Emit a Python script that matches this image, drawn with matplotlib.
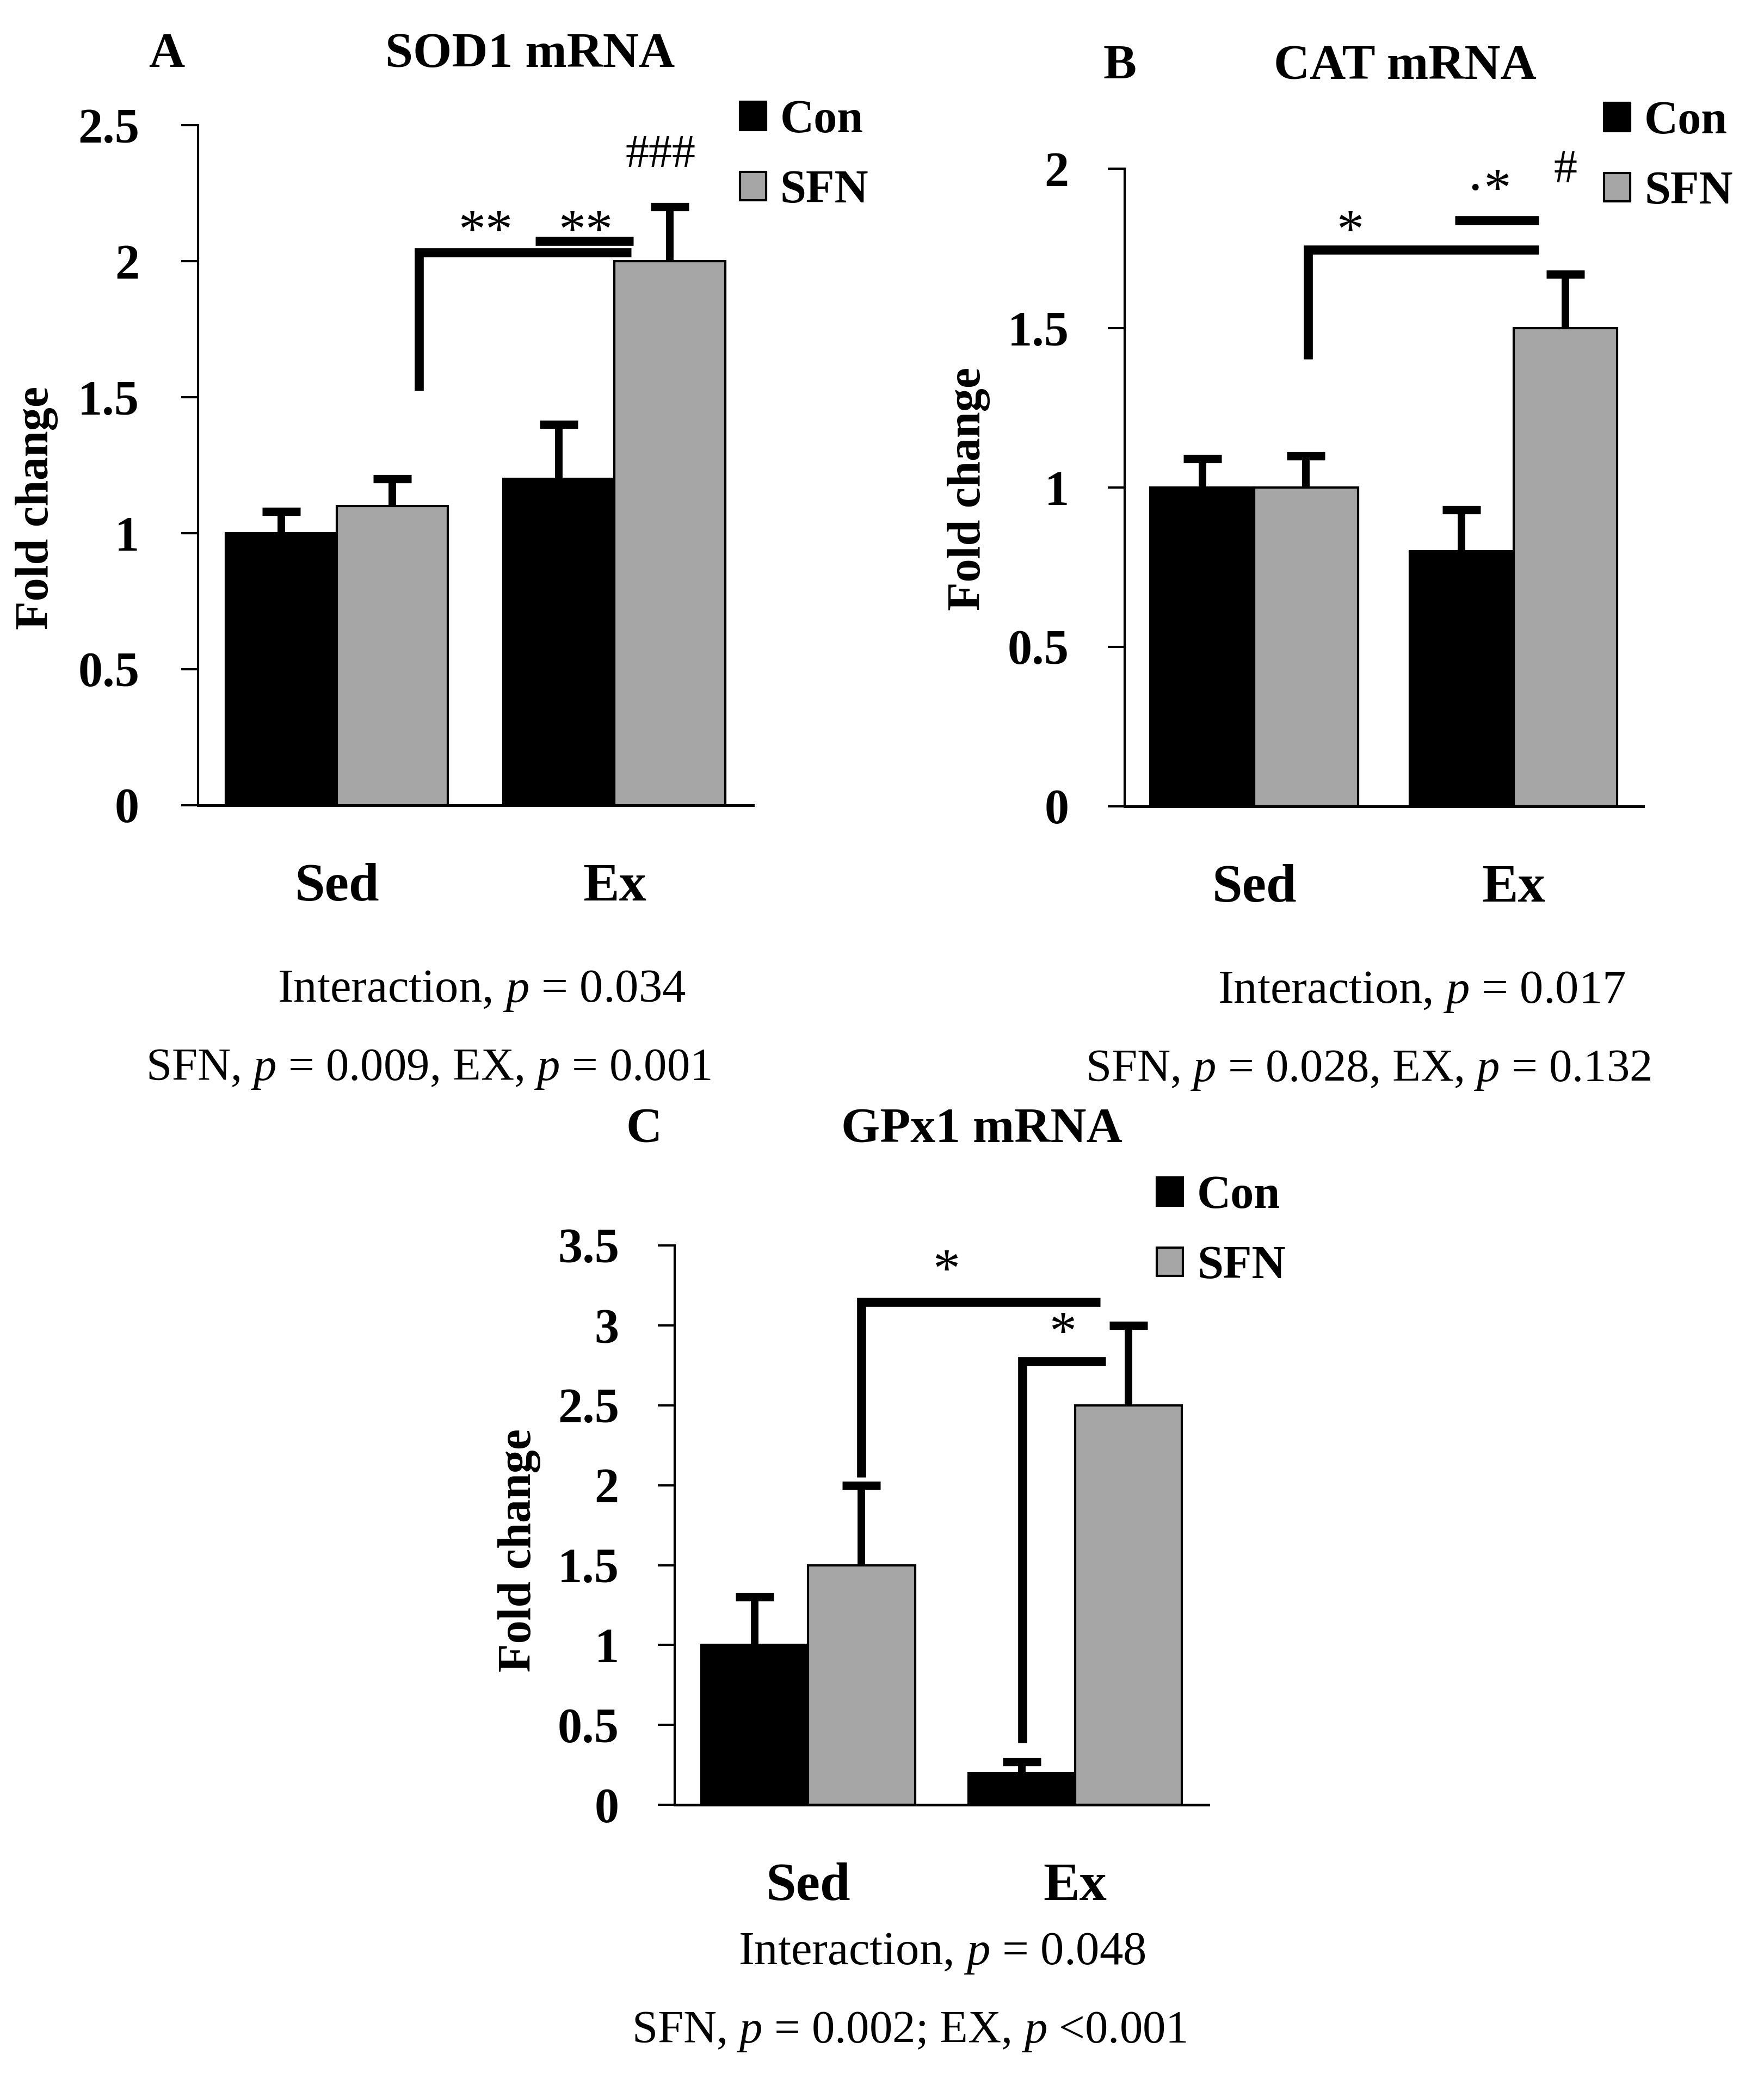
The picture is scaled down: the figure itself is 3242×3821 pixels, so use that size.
import numpy as np
import matplotlib
matplotlib.use("Agg")
import matplotlib.pyplot as plt

plt.rcParams['font.family'] = ['Liberation Serif', 'DejaVu Serif']
plt.rcParams['mathtext.fontset'] = 'custom'
plt.rcParams['mathtext.rm'] = 'Liberation Serif'
plt.rcParams['mathtext.it'] = 'Liberation Serif:italic'
plt.rcParams['mathtext.bf'] = 'Liberation Serif:bold'

# data
groups = ["Sed", "Ex"]
series = ["Con", "SFN"]

sod1_con = [1.0, 1.2]
sod1_sfn = [1.1, 2.0]
sod1_con_err = [0.08, 0.2]
sod1_sfn_err = [0.1, 0.2]

cat_con = [1.0, 0.8]
cat_sfn = [1.0, 1.5]
cat_con_err = [0.09, 0.13]
cat_sfn_err = [0.1, 0.17]

gpx_con = [1.0, 0.2]
gpx_sfn = [1.5, 2.5]
gpx_con_err = [0.3, 0.07]
gpx_sfn_err = [0.5, 0.5]

stats_a = ["Interaction, $p$ = 0.034", "SFN, $p$ = 0.009, EX, $p$ = 0.001"]
stats_b = ["Interaction, $p$ = 0.017", "SFN, $p$ = 0.028, EX, $p$ = 0.132"]
stats_c = ["Interaction, $p$ = 0.048", "SFN, $p$ = 0.002; EX, $p$ <0.001"]

# reference was measured on a 1324 x 1560 preview
W, H = 1324.0, 1560.0


def fx(x):
    return x / W


def fy(y):
    return 1 - y / H


def box(l, r, b, t):
    return [l / W, 1 - b / H, (r - l) / W, (b - t) / H]


GREY = "#A6A6A6"

fig = plt.figure(figsize=(32.42, 38.21), dpi=100)


def draw_panel(rect, con, sfn, con_err, sfn_err, ymax, ypad, legend_xy, ylabel_xy):
    ax = fig.add_axes(rect)
    x = np.arange(len(groups))
    w = 0.4
    ekw = dict(elinewidth=10, capsize=25, capthick=11, ecolor="black", zorder=4)
    b1 = ax.bar(x - w / 2, con, w, color="black", edgecolor="black", linewidth=3,
                yerr=[np.zeros(len(con)), con_err], error_kw=ekw, label="Con", zorder=3)
    b2 = ax.bar(x + w / 2, sfn, w, color=GREY, edgecolor="black", linewidth=3,
                yerr=[np.zeros(len(sfn)), sfn_err], error_kw=ekw, label="SFN", zorder=3)
    # only the upper cap is shown
    for b in (b1, b2):
        b.errorbar.lines[1][0].set_visible(False)
    ax.set_xlim(-0.5, len(groups) - 0.5)
    ax.set_ylim(0, ymax)
    yt = np.arange(0, ymax + 0.01, 0.5)
    ax.set_yticks(yt)
    ax.set_yticklabels(["%g" % v for v in yt], fontsize=65, fontweight="bold")
    ax.set_xticks(x)
    ax.set_xticklabels(groups, fontsize=72, fontweight="bold")
    for lbl in ax.get_xticklabels():
        lbl.set_va("baseline")
    ax.tick_params(axis="x", length=0, pad=126)
    ax.tick_params(axis="y", direction="out", length=22.6, width=3, pad=ypad)
    ax.spines["top"].set_visible(False)
    ax.spines["right"].set_visible(False)
    ax.spines["left"].set_linewidth(3)
    ax.spines["bottom"].set_linewidth(3.6)
    ax.set_ylabel("Fold change", fontsize=62, fontweight="bold", ha="center", va="center")
    ax.yaxis.set_label_coords(*ylabel_xy)
    ax.legend(handles=[b1, b2], labels=series, loc="center left",
              bbox_to_anchor=legend_xy, bbox_transform=fig.transFigure,
              frameon=False, borderpad=0, borderaxespad=0,
              handlelength=0.56, handleheight=0.56, handletextpad=0.3,
              labelspacing=0.58, prop=dict(size=62, weight="bold"))
    return ax


def bracket(ax, xs, ys):
    ax.plot(xs, ys, color="black", lw=12, solid_capstyle="butt",
            solid_joinstyle="miter", clip_on=False, zorder=5)


# Panel A
axA = draw_panel(box(148.6, 565.3, 604.2, 94), sod1_con, sod1_sfn, sod1_con_err, sod1_sfn_err,
                 2.5, 55, (fx(555.3), fy(117.3)), (-0.29, 0.4375))
bracket(axA, [0.296, 0.296, 1.061], [1.525, 2.032, 2.032])
bracket(axA, [0.715, 1.069], [2.074, 2.074])
axA.text(0.536, 2.054, "**", fontsize=72, ha="center", va="baseline")
axA.text(0.897, 2.054, "**", fontsize=72, ha="center", va="baseline")
axA.text(1.167, 2.347, "###", fontsize=62, ha="center", va="baseline")
fig.text(fx(125), fy(50.4), "A", fontsize=66, fontweight="bold", ha="center", va="baseline")
fig.text(fx(397.8), fy(50.4), "SOD1 mRNA", fontsize=66, fontweight="bold", ha="center", va="baseline")
fig.text(fx(361.6), fy(751.6), stats_a[0], fontsize=62.5, ha="center", va="baseline")
fig.text(fx(321.6), fy(810.4), stats_a[1], fontsize=61, ha="center", va="baseline")

# Panel B
axB = draw_panel(box(844, 1233.3, 605, 126.7), cat_con, cat_sfn, cat_con_err, cat_sfn_err,
                 2.0, 51, (fx(1204), fy(118.1)), (-0.3005, 0.4976))
bracket(axB, [0.208, 0.208, 1.098], [1.403, 1.747, 1.747])
bracket(axB, [0.775, 1.098], [1.839, 1.839])
axB.text(0.369, 1.756, "*", fontsize=72, ha="center", va="baseline")
axB.text(0.905, 1.887, "\u00b7*", fontsize=72, ha="center", va="baseline")
axB.text(1.2, 1.958, "#", fontsize=62, ha="center", va="baseline")
fig.text(fx(840.4), fy(59), "B", fontsize=66, fontweight="bold", ha="center", va="baseline")
fig.text(fx(1054.8), fy(59), "CAT mRNA", fontsize=66, fontweight="bold", ha="center", va="baseline")
fig.text(fx(1066.9), fy(752.6), stats_b[0], fontsize=62.5, ha="center", va="baseline")
fig.text(fx(1027), fy(811.4), stats_b[1], fontsize=61, ha="center", va="baseline")

# Panel C
axC = draw_panel(box(506.4, 907.2, 1354.4, 934.4), gpx_con, gpx_sfn, gpx_con_err, gpx_sfn_err,
                 3.5, 51, (fx(868.3), fy(924.5)), (-0.2904, 0.4553))
bracket(axC, [0.2, 0.2, 1.094], [2.048, 3.146, 3.146])
bracket(axC, [0.803, 0.803, 1.114], [0.389, 2.774, 2.774])
axC.text(0.518, 3.247, "*", fontsize=72, ha="center", va="baseline")
axC.text(0.953, 2.856, "*", fontsize=72, ha="center", va="baseline")
fig.text(fx(483.4), fy(856.8), "C", fontsize=66, fontweight="bold", ha="center", va="baseline")
fig.text(fx(736.7), fy(856.8), "GPx1 mRNA", fontsize=66, fontweight="bold", ha="center", va="baseline")
fig.text(fx(707), fy(1473.9), stats_c[0], fontsize=62.5, ha="center", va="baseline")
fig.text(fx(682.3), fy(1532.6), stats_c[1], fontsize=61, ha="center", va="baseline")

fig.savefig("out.png", dpi=100, facecolor="white")
